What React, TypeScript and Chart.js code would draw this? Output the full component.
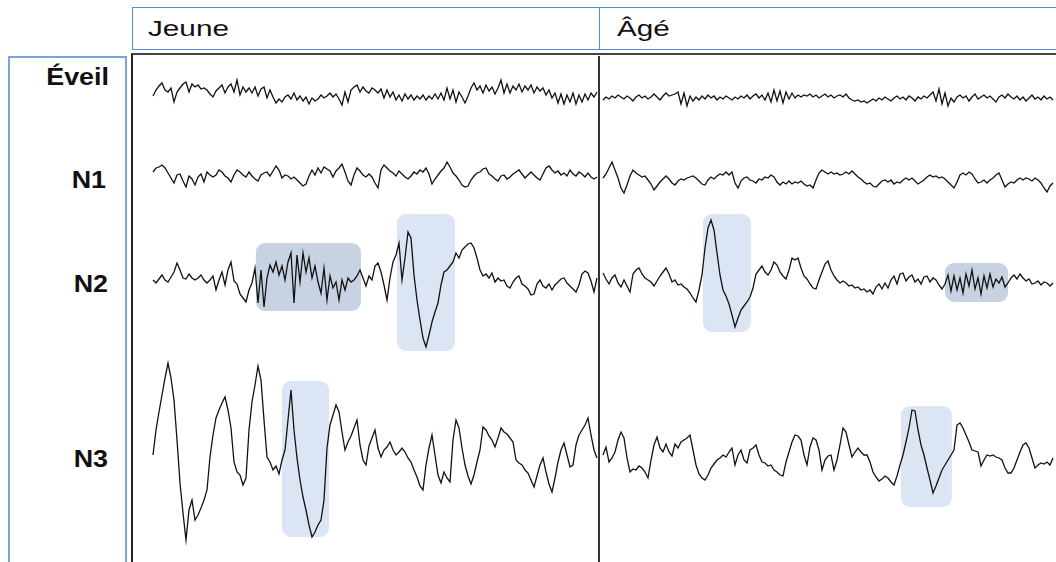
import React, { useEffect, useRef } from "react";
import { Chart, registerables } from "chart.js";

Chart.register(...registerables);

// Sleep stages (rows) and age groups (columns)
const STAGES = ["Éveil", "N1", "N2", "N3"];
const GROUPS = ["Jeune", "Âgé"];

// EEG traces: amplitude (µV, up = positive), one value per sample
const EVEIL_JEUNE = [-2,4,8,11,4,2,6,-8,2,6,10,12,2,10,7,9,5,6,4,0,-3,3,6,9,1,7,10,2,14,-1,7,2,6,1,7,-2,5,7,-4,4,-3,-9,-5,-8,-3,-1,-5,1,-6,-2,-7,-3,-10,-4,-7,-5,-1,-4,-2,1,-3,0,-5,-11,2,-8,4,7,9,2,7,3,1,6,4,1,5,-4,4,-3,2,-6,-1,-7,0,-5,-1,-6,-2,-5,-1,-6,-2,-5,0,-5,1,-6,6,-5,4,-8,2,-3,-9,-2,6,11,4,8,1,9,3,7,0,6,14,1,10,1,8,4,10,2,8,4,9,1,7,3,6,-1,4,-4,1,-9,0,-10,-1,-8,1,-10,-1,-8,0,-6,1,-3,2];
const EVEIL_AGE = [-3,0,-2,1,-1,2,0,-2,1,-1,-4,0,2,-1,1,-2,0,3,0,-3,1,4,1,2,3,5,-7,4,-9,1,-4,0,-3,1,-2,2,-1,1,-3,0,-2,1,-1,-3,0,-2,1,-1,2,-2,1,3,-1,2,-3,4,-5,7,-4,6,-6,5,-2,4,-1,2,0,2,1,3,0,2,-1,1,3,0,2,-1,1,2,0,3,-1,-3,-4,-3,-5,-4,-6,-4,-2,-4,-1,-3,0,-2,-4,-1,1,-2,0,-3,1,-1,-4,0,-2,1,-1,2,5,-4,8,-7,4,-9,-1,-5,0,2,-1,1,-4,0,3,-2,0,2,-1,1,-2,-5,0,2,-1,3,0,-2,1,-3,0,-4,-1,2,-2,0,-3,1,-2,0,-3];
const N1_JEUNE = [4,8,9,11,8,3,-2,-7,1,2,-5,-11,0,-3,-9,-1,2,-6,4,1,-1,1,6,4,0,-2,-6,1,6,4,1,-1,4,0,-3,-5,1,3,4,0,5,10,6,-2,1,0,-3,-1,-4,-7,-10,-8,0,6,1,8,3,9,7,5,-1,5,8,12,4,-5,-9,1,8,5,1,-1,2,-1,-7,-12,6,11,8,5,3,0,5,2,-1,-3,0,4,2,6,4,8,2,-8,-3,1,5,8,14,9,3,0,-4,-9,-11,-10,-4,0,3,4,7,8,2,0,-3,-5,0,1,-3,-1,2,4,6,2,-2,1,4,1,-2,-4,2,8,10,6,3,5,1,3,0,6,2,0,4,2,-1,3,-1,-3,-1];
const N1_AGE = [1,5,11,17,9,1,-9,-14,-6,3,9,6,4,2,3,-1,-5,-11,-7,-3,0,3,0,-4,-6,-2,0,-1,1,2,3,1,-2,-5,-6,-1,2,0,3,5,4,7,4,7,-4,-9,-2,1,2,-1,-2,-4,0,-1,2,1,4,2,-3,-6,-3,-5,-2,-5,-3,-4,-2,-5,-7,-6,-9,-1,6,9,7,5,7,5,6,4,5,7,5,8,5,2,0,-3,-5,-4,-7,-8,-5,-2,-1,-3,-1,-5,-3,-4,-1,1,-1,1,-2,-5,-3,-1,2,4,2,3,1,2,0,-3,-6,-9,-3,4,6,4,7,5,0,-4,-3,-1,-4,-1,1,4,6,-1,-8,-5,-3,-4,-1,1,-1,1,0,-2,1,-1,-4,-9,-13,-7,-4];
const N2_JEUNE = [0,-3,1,5,0,-2,3,8,17,10,2,1,6,2,0,2,5,0,-3,0,4,-10,0,8,-5,10,18,-1,-4,-14,-18,-22,-10,-3,12,-23,10,-27,2,15,8,18,5,14,0,18,27,-23,25,-2,27,8,22,2,14,-2,-13,12,-20,4,-8,-2,-20,0,-10,2,-2,0,4,10,2,-6,4,0,14,17,8,-5,-20,2,18,25,37,0,22,48,42,5,-20,-40,-58,-67,-55,-42,-32,-23,-5,8,10,14,18,27,22,30,33,36,37,32,22,10,4,6,2,7,-2,2,-1,0,-6,-8,-2,2,4,-4,-6,-9,-15,-14,-4,0,-6,-8,-4,-10,-5,-2,1,2,-3,-6,-9,-12,-5,6,9,7,-1,-12,2];
const N2_AGE = [7,1,-4,2,5,-3,-7,0,-6,-12,6,10,12,6,2,0,-2,-6,-1,4,8,12,6,-2,0,-5,-4,-7,-9,-13,-18,-22,-10,5,32,52,60,50,27,5,-10,-16,-24,-35,-47,-38,-30,-26,-22,-17,-8,6,10,14,8,5,10,18,15,8,4,1,10,22,20,22,12,4,1,-4,-8,-9,0,8,16,19,10,4,0,-3,-1,-3,-6,-5,-8,-7,-10,-9,-12,-10,-14,-7,-4,-9,-3,-8,0,4,-4,6,7,-1,3,5,-2,1,-4,3,4,-2,2,0,-5,-9,-4,5,-11,4,-10,2,-13,6,-6,10,-9,2,-14,4,-8,6,-7,1,-3,3,-7,-3,2,5,1,6,2,-1,1,-4,-3,-1,-5,-2,-3,-6,-3];
const N3_JEUNE = [0,25,43,60,77,92,77,55,15,-28,-58,-85,-55,-45,-65,-60,-53,-45,-35,-2,20,37,45,52,58,45,27,-7,-17,-20,-30,-23,25,53,70,89,75,35,-2,-7,-15,-11,-19,-5,5,35,65,25,-3,-25,-42,-55,-70,-82,-77,-70,-65,-45,7,30,40,50,43,23,5,13,19,27,35,10,-5,-10,9,17,25,7,-2,5,8,13,5,0,3,7,3,-3,-7,-15,-22,-31,-35,-10,7,20,0,-20,-28,-17,-23,-27,15,35,27,7,-10,-21,-29,-20,-7,5,28,25,19,15,8,17,27,23,21,17,13,-5,-8,-10,-15,-18,-25,-32,-21,-10,-3,-17,-29,-37,-23,-7,5,12,0,-12,-10,10,20,25,30,37,20,5,-3];
const N3_AGE = [0,8,-7,-3,3,15,23,17,-3,-17,-14,-15,-11,-13,-17,-23,-5,10,18,7,3,11,3,-1,11,7,13,15,17,20,5,-10,-19,-23,-25,-20,-13,-9,-5,-3,0,-2,3,7,-10,0,5,-5,-8,5,7,10,0,-7,-8,-11,-10,-15,-17,-20,-21,-7,3,13,20,19,15,0,-10,8,17,15,5,-15,-5,-1,0,-15,-5,10,27,23,10,-2,3,7,3,0,0,-7,-17,-22,-26,-24,-21,-23,-27,-30,-21,-10,0,13,27,45,44,25,10,0,-13,-25,-38,-31,-23,-15,-10,-5,0,5,30,32,27,20,13,5,4,3,-11,-5,0,-1,0,-2,-3,-5,-13,-18,-18,-13,-5,3,10,12,7,-3,-13,-10,-8,-9,-7,-10,-3];

const TRACES_JEUNE = [EVEIL_JEUNE, N1_JEUNE, N2_JEUNE, N3_JEUNE];
const TRACES_AGE = [EVEIL_AGE, N1_AGE, N2_AGE, N3_AGE];

// Sample index where each recording starts, and the boundary between them
const START_JEUNE = 0;
const START_AGE = 150;
const BOUNDARY = 148.67;

// Highlighted events (spindles "fuseau", K-complexes "complexe K")
const EVENT_TYPE = ["fuseau", "complexe K", "complexe K", "fuseau", "complexe K", "complexe K"];
const EVENT_STAGE = [2, 2, 2, 2, 3, 3];
const EVENT_GROUP = [0, 0, 1, 1, 0, 1];
const EVENT_T0 = [34.3, 81.3, 183.3, 264, 43, 249.3];
const EVENT_T1 = [69.3, 100.7, 199.3, 285, 58.7, 266.3];
const EVENT_HI = [37, 66, 66, 17, 74, 49];
const EVENT_LO = [-31, -71, -52, -22, -82, -52];

// Display layout (row offsets on the vertical axis)
const ROW_BASE_JEUNE = [94, 176, 280, 455];
const ROW_BASE_AGE = [97, 179, 280, 455];

const X_MIN = -6.333;
const X_MAX = 301;
const Y_MIN = 56;
const Y_MAX = 562;

const eventsPlugin = {
  id: "events",
  beforeDatasetsDraw(chart: any) {
    const { ctx, scales, chartArea } = chart;
    const x = scales.x;
    const y = scales.y;
    ctx.save();
    EVENT_T0.forEach((t0, k) => {
      const base = (EVENT_GROUP[k] === 0 ? ROW_BASE_JEUNE : ROW_BASE_AGE)[EVENT_STAGE[k]];
      const x0 = x.getPixelForValue(t0);
      const x1 = x.getPixelForValue(EVENT_T1[k]);
      const y0 = y.getPixelForValue(base - EVENT_HI[k]);
      const y1 = y.getPixelForValue(base - EVENT_LO[k]);
      ctx.fillStyle = EVENT_TYPE[k] === "fuseau" ? "#c7d3e3" : "#dbe5f4";
      ctx.beginPath();
      ctx.roundRect(x0, y0, x1 - x0, y1 - y0, 9);
      ctx.fill();
    });
    const xd = x.getPixelForValue(BOUNDARY);
    ctx.strokeStyle = "#000";
    ctx.lineWidth = 1.6;
    ctx.beginPath();
    ctx.moveTo(xd, chartArea.top);
    ctx.lineTo(xd, chartArea.bottom);
    ctx.stroke();
    ctx.restore();
  },
};

export default function App() {
  const ref = useRef<HTMLCanvasElement>(null);

  useEffect(() => {
    const datasets: any[] = [];
    STAGES.forEach((stage, s) => {
      [TRACES_JEUNE, TRACES_AGE].forEach((traces, g) => {
        const start = g === 0 ? START_JEUNE : START_AGE;
        const base = (g === 0 ? ROW_BASE_JEUNE : ROW_BASE_AGE)[s];
        datasets.push({
          label: `${stage} – ${GROUPS[g]}`,
          data: traces[s].map((v, i) => ({ x: start + i, y: base - v })),
          borderColor: "#111",
          borderWidth: 1.3,
          pointRadius: 0,
          tension: 0,
          fill: false,
        });
      });
    });
    const chart = new Chart(ref.current as HTMLCanvasElement, {
      type: "line",
      data: { datasets },
      options: {
        animation: false,
        responsive: false,
        devicePixelRatio: 1,
        layout: { padding: 0 },
        plugins: { legend: { display: false }, tooltip: { enabled: false } },
        scales: {
          x: { type: "linear", min: X_MIN, max: X_MAX, display: false },
          y: { type: "linear", reverse: true, min: Y_MIN, max: Y_MAX, display: false },
        },
      },
      plugins: [eventsPlugin],
    });
    return () => chart.destroy();
  }, []);

  const blue = "#4f8fd8";
  const font = "'Liberation Sans', Arial, sans-serif";
  const labelTops = [65, 168, 272, 447];
  const labelRights = [109, 106, 108, 108];

  return (
    <div style={{ position: "fixed", left: 0, top: 0, width: 1056, height: 562, overflow: "hidden", background: "#fff", fontFamily: font }}>
      {/* header boxes */}
      <div style={{ position: "absolute", left: 132, top: 7, width: 468, height: 43, boxSizing: "border-box", border: `1px solid ${blue}` }} />
      <div style={{ position: "absolute", left: 599, top: 7, width: 500, height: 43, boxSizing: "border-box", border: `1px solid ${blue}` }} />
      <div style={{ position: "absolute", left: 148, top: 18.2, fontSize: 22, lineHeight: "22px", color: "#111", transform: "scaleX(1.35)", transformOrigin: "left center", whiteSpace: "nowrap" }}>{GROUPS[0]}</div>
      <div style={{ position: "absolute", left: 617, top: 18.2, fontSize: 22, lineHeight: "22px", color: "#111", transform: "scaleX(1.35)", transformOrigin: "left center", whiteSpace: "nowrap" }}>{GROUPS[1]}</div>
      {/* label column */}
      <div style={{ position: "absolute", left: 8, top: 56, width: 119, height: 600, boxSizing: "border-box", border: `2px solid #76a6de` }} />
      {STAGES.map((s, i) => (
        <div key={s} style={{ position: "absolute", left: labelRights[i] - 200, width: 200, top: labelTops[i], textAlign: "right", fontWeight: "bold", fontSize: 24, lineHeight: "24px", color: "#111", transform: "scaleX(1.12)", transformOrigin: "right center", whiteSpace: "nowrap" }}>{s}</div>
      ))}
      {/* main frame */}
      <div style={{ position: "absolute", left: 131, top: 53, width: 1000, height: 600, boxSizing: "border-box", borderTop: "2px solid #444", borderLeft: "2px solid #222" }} />
      <canvas ref={ref} width={922} height={506} style={{ position: "absolute", left: 134, top: 56, width: 922, height: 506 }} />
    </div>
  );
}
